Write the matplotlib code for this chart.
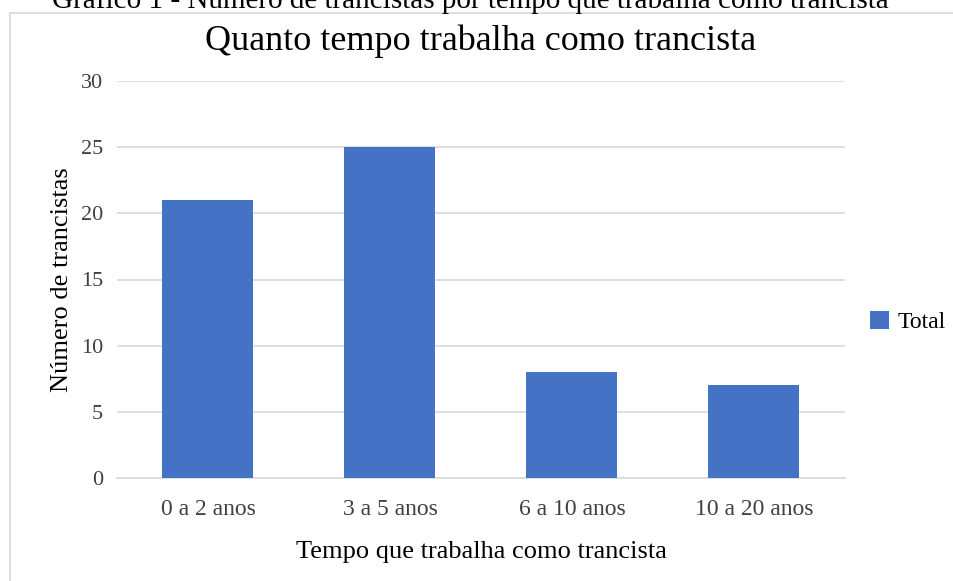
import matplotlib.pyplot as plt
from matplotlib.patches import Rectangle

categorias = ["0 a 2 anos", "3 a 5 anos", "6 a 10 anos", "10 a 20 anos"]
total = [21, 25, 8, 7]
yticks = [0, 5, 10, 15, 20, 25, 30]

plt.rcParams['font.family'] = ['Liberation Serif', 'DejaVu Serif']

W, H = 954, 581
fig = plt.figure(figsize=(W / 100, H / 100), dpi=100)

# moldura do grafico (Excel)
fig.patches.append(Rectangle((10 / W, -0.1), 1.2, 1 - 13 / H + 0.1,
                             transform=fig.transFigure, fill=False,
                             edgecolor='#d9d9d9', lw=1.2))

# legenda do documento, cortada no topo como no original
fig.text(470 / W, 1 - 0 / H, "Gráfico 1 - Número de trancistas por tempo que trabalha como trancista",
         ha='center', va='center', fontsize=21, color='black')

ax = fig.add_axes([117 / W, 1 - 478 / H, (845 - 117) / W, (478 - 81) / H])
x = range(len(categorias))
ax.bar(x, total, width=0.5, color='#4472c4', label='Total', zorder=3)
ax.set_xlim(-0.5, len(categorias) - 0.5)
ax.set_ylim(0, 30)
ax.set_yticks(yticks)
ax.set_xticks(list(x))
ax.set_xticklabels(categorias)
ax.grid(axis='y', color='#d9d9d9', lw=1.2, zorder=0)
for s in ['top', 'right', 'left']:
    ax.spines[s].set_visible(False)
ax.spines['bottom'].set_color('#d9d9d9')
ax.spines['bottom'].set_linewidth(1.2)
ax.tick_params(length=0, labelcolor='#404040')
ax.tick_params(axis='x', pad=15, labelsize=17)
ax.tick_params(axis='y', pad=10, labelsize=16)

ax.set_title("Quanto tempo trabalha como trancista", fontsize=26, pad=22)
ax.set_xlabel("Tempo que trabalha como trancista", fontsize=19, labelpad=15)
ax.set_ylabel("Número de trancistas", fontsize=19, labelpad=6)

ax.legend(loc='center left', bbox_to_anchor=(1.022, 0.393), frameon=False,
          fontsize=17, handlelength=0.8, handleheight=0.8, handletextpad=0.35,
          borderaxespad=0)

fig.savefig("out.png", dpi=100)
